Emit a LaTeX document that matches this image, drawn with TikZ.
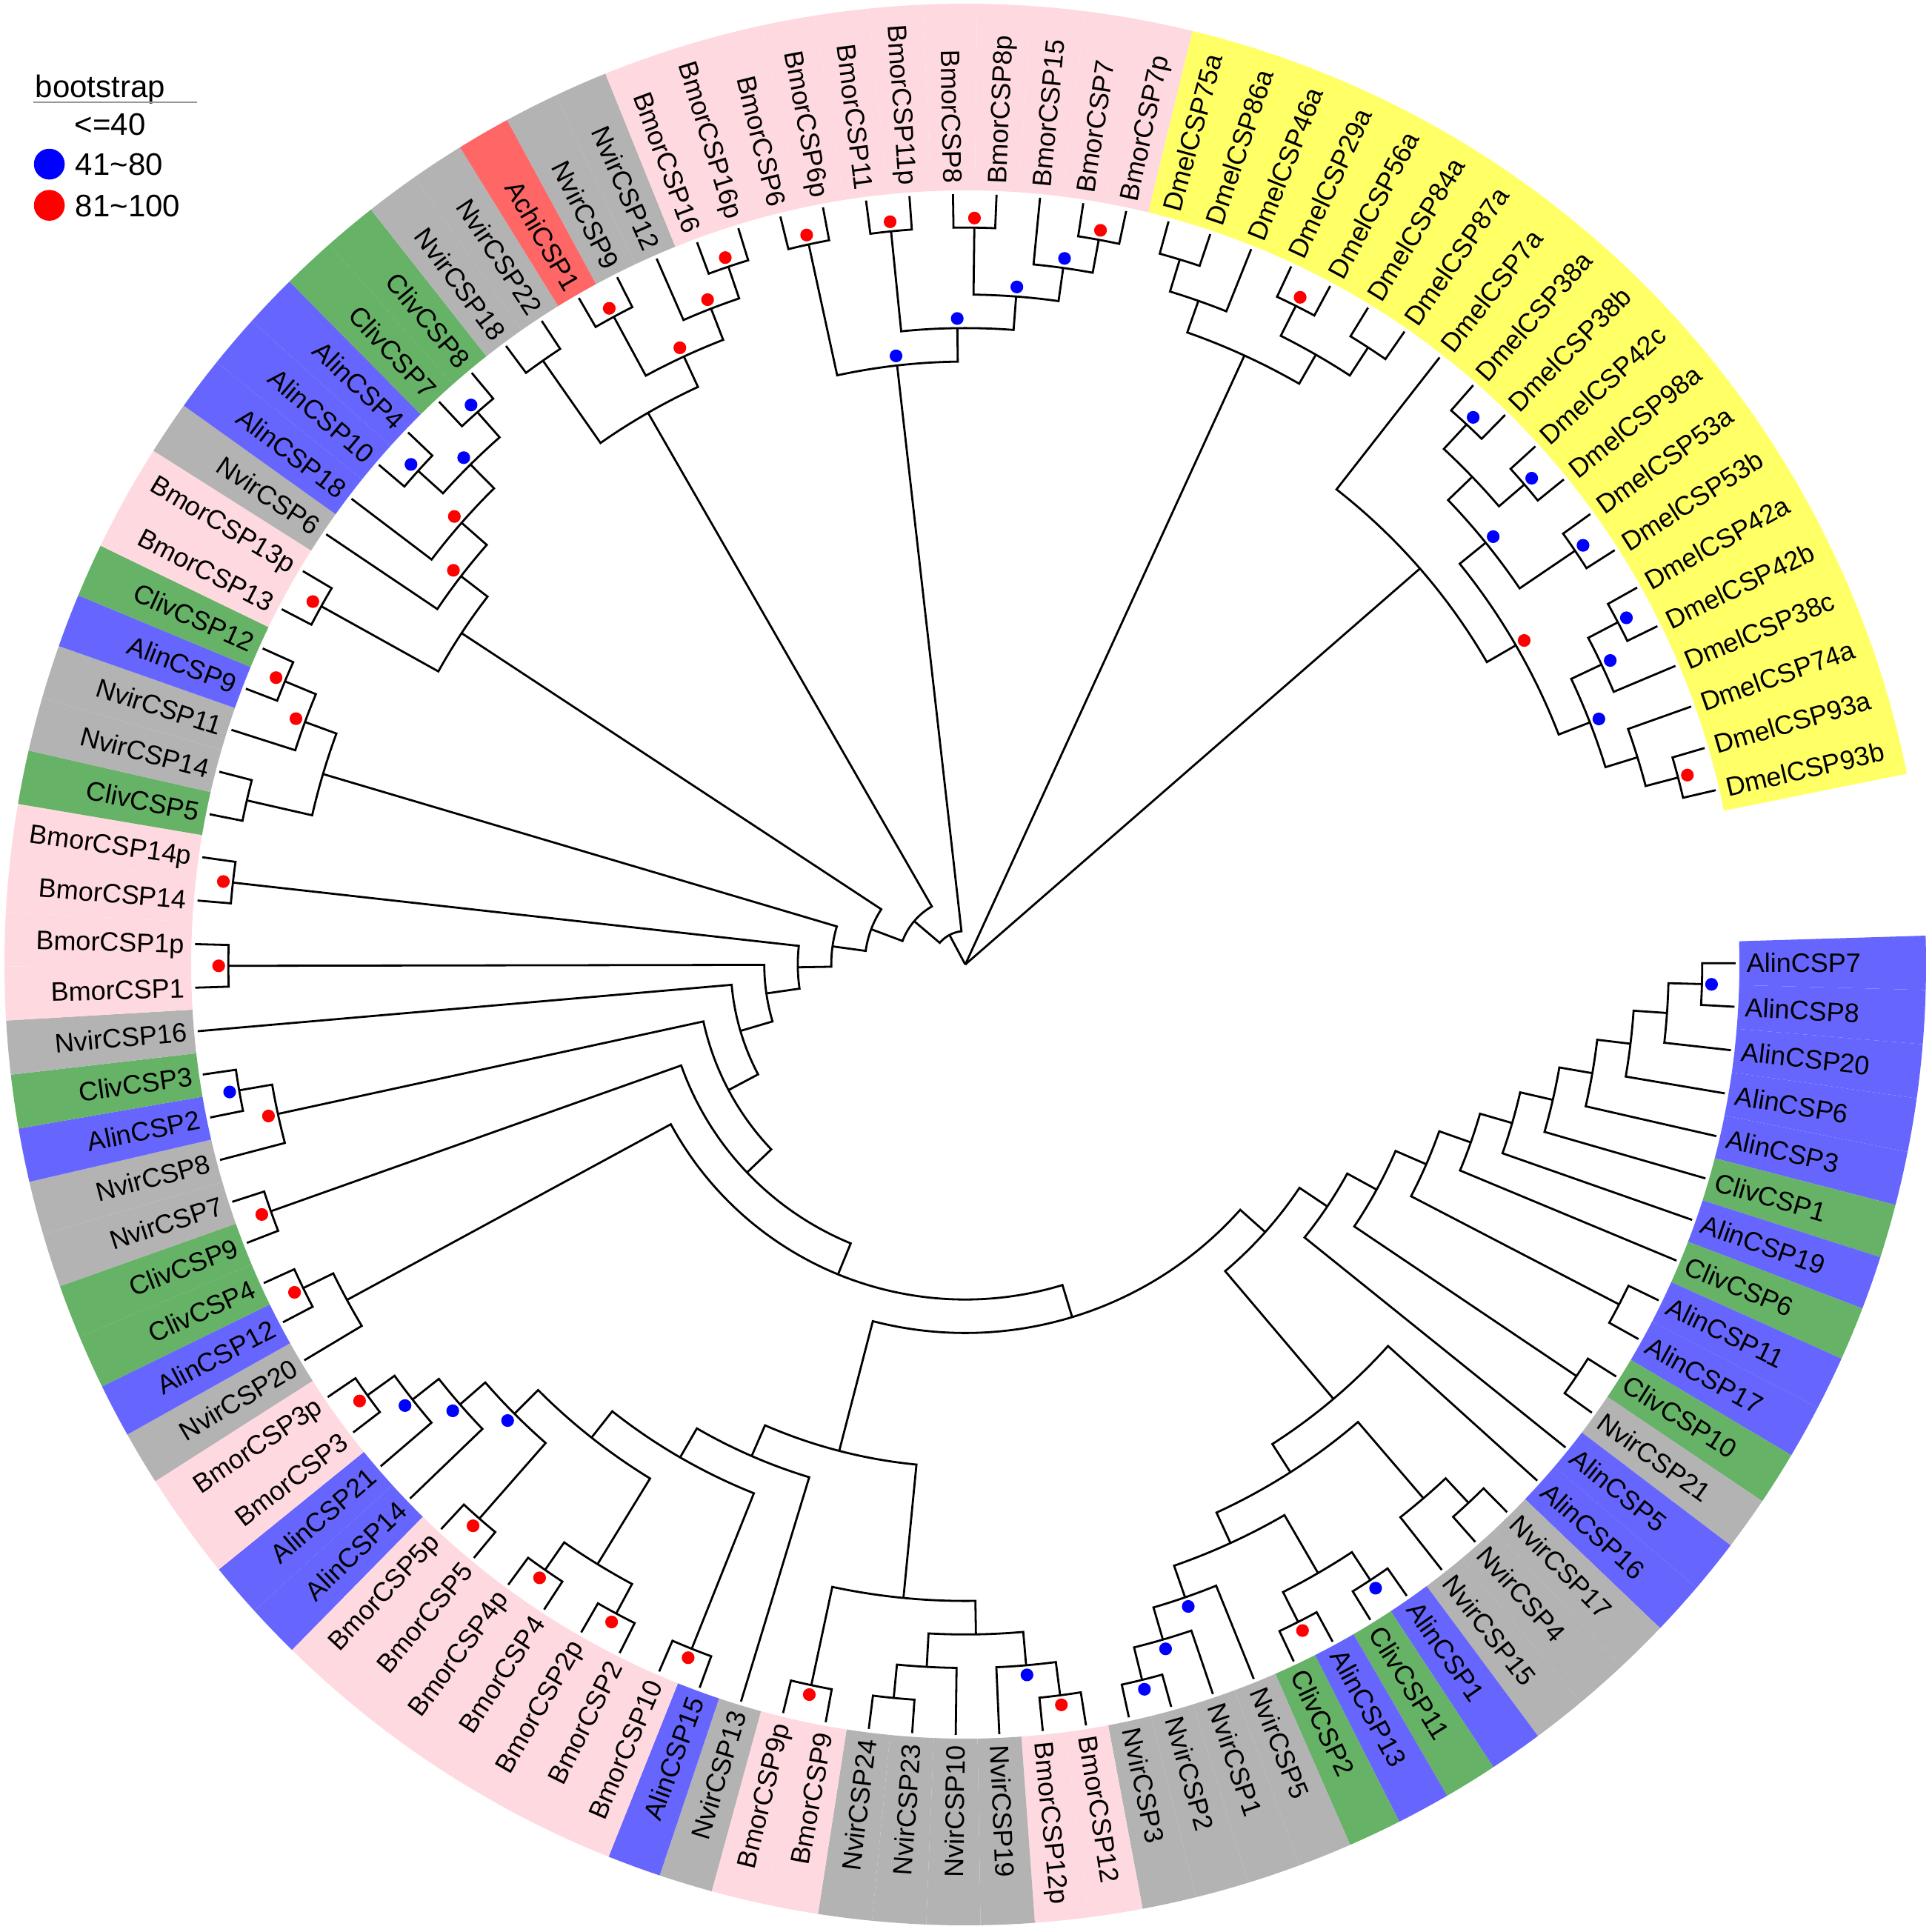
\documentclass[tikz,border=0pt]{standalone}
\usepackage{fontspec}
\setmainfont{Liberation Sans}
\definecolor{cBmor}{RGB}{255,217,224}
\definecolor{cDmel}{RGB}{255,255,102}
\definecolor{cAlin}{RGB}{102,102,255}
\definecolor{cCliv}{RGB}{102,178,102}
\definecolor{cNvir}{RGB}{179,179,179}
\definecolor{cAchi}{RGB}{255,102,102}
\definecolor{dotblue}{RGB}{0,0,255}
\definecolor{dotred}{RGB}{255,0,0}
\tikzset{
  branch/.style={line width=0.7pt,black},
  leaflabel/.style={font=\fontsize{9}{10}\selectfont,inner sep=0pt,text height=6.4pt,text depth=0pt},
  legendtext/.style={font=\fontsize{10.5}{12}\selectfont,inner sep=0pt,text height=7.5pt,text depth=0pt},
  legenddot/.style={circle,inner sep=0pt,minimum size=10.4pt}
}
\newcommand\Leaf[3]{%
  \pgfmathsetmacro\ql{0.1-(#2-1)*3.2432}%
  \expandafter\xdef\csname A#1\endcsname{\ql}%
  \expandafter\xdef\csname R#1\endcsname{260}%
  \pgfmathsetmacro\qlb{\ql-1.6216}%
  \pgfmathsetmacro\qlc{\ql+1.6216}%
  \fill[#3] (\qlb:261.25pt) arc[start angle=\qlb,end angle=\qlc,radius=261.25pt]
     -- (\qlc:324.25pt) arc[start angle=\qlc,end angle=\qlb,radius=324.25pt] -- cycle;
  \coordinate (#1) at (\ql:260pt);
  \ifdim\ql pt>-90pt \edef\qrot{\ql}\def\qanc{west}%
  \else\ifdim\ql pt<-270pt \edef\qrot{\ql}\def\qanc{west}%
  \else\pgfmathsetmacro\qrot{\ql+180}\def\qanc{east}\fi\fi
  \node[leaflabel,rotate=\qrot,anchor=\qanc] (lab#1) at (\ql:263.5pt) {#1};
}
\newcommand\Clade[5][]{%
  \edef\qa{\csname A#4\endcsname}\edef\qb{\csname A#5\endcsname}%
  \edef\qra{\csname R#4\endcsname}\edef\qrb{\csname R#5\endcsname}%
  \pgfmathsetmacro\qr{260-#3*11.30435}%
  \pgfmathsetmacro\qm{(\qa+\qb)/2}%
  \expandafter\xdef\csname A#2\endcsname{\qm}%
  \expandafter\xdef\csname R#2\endcsname{\qr}%
  \draw[branch] (\qa:\qra pt) -- (\qa:\qr pt) arc[start angle=\qa,end angle=\qb,radius=\qr pt] -- (\qb:\qrb pt);
  \coordinate (#2) at (\qm:\qr pt);
  \if\relax\detokenize{#1}\relax\else
    \pgfmathsetmacro\qd{\qr+3.25}%
    \fill[#1] (\qm:\qd pt) circle[radius=2.15pt];
  \fi}
\begin{document}
\begin{tikzpicture}
\useasboundingbox (-325.75pt,-326.5pt) rectangle (326pt,325.5pt);
\fill[white] (-325.75pt,-326.5pt) rectangle (326pt,325.5pt);
% ---------- leaves ----------
\Leaf{AlinCSP7}{1}{cAlin}
\Leaf{AlinCSP8}{2}{cAlin}
\Leaf{AlinCSP20}{3}{cAlin}
\Leaf{AlinCSP6}{4}{cAlin}
\Leaf{AlinCSP3}{5}{cAlin}
\Leaf{ClivCSP1}{6}{cCliv}
\Leaf{AlinCSP19}{7}{cAlin}
\Leaf{ClivCSP6}{8}{cCliv}
\Leaf{AlinCSP11}{9}{cAlin}
\Leaf{AlinCSP17}{10}{cAlin}
\Leaf{ClivCSP10}{11}{cCliv}
\Leaf{NvirCSP21}{12}{cNvir}
\Leaf{AlinCSP5}{13}{cAlin}
\Leaf{AlinCSP16}{14}{cAlin}
\Leaf{NvirCSP17}{15}{cNvir}
\Leaf{NvirCSP4}{16}{cNvir}
\Leaf{NvirCSP15}{17}{cNvir}
\Leaf{AlinCSP1}{18}{cAlin}
\Leaf{ClivCSP11}{19}{cCliv}
\Leaf{AlinCSP13}{20}{cAlin}
\Leaf{ClivCSP2}{21}{cCliv}
\Leaf{NvirCSP5}{22}{cNvir}
\Leaf{NvirCSP1}{23}{cNvir}
\Leaf{NvirCSP2}{24}{cNvir}
\Leaf{NvirCSP3}{25}{cNvir}
\Leaf{BmorCSP12}{26}{cBmor}
\Leaf{BmorCSP12p}{27}{cBmor}
\Leaf{NvirCSP19}{28}{cNvir}
\Leaf{NvirCSP10}{29}{cNvir}
\Leaf{NvirCSP23}{30}{cNvir}
\Leaf{NvirCSP24}{31}{cNvir}
\Leaf{BmorCSP9}{32}{cBmor}
\Leaf{BmorCSP9p}{33}{cBmor}
\Leaf{NvirCSP13}{34}{cNvir}
\Leaf{AlinCSP15}{35}{cAlin}
\Leaf{BmorCSP10}{36}{cBmor}
\Leaf{BmorCSP2}{37}{cBmor}
\Leaf{BmorCSP2p}{38}{cBmor}
\Leaf{BmorCSP4}{39}{cBmor}
\Leaf{BmorCSP4p}{40}{cBmor}
\Leaf{BmorCSP5}{41}{cBmor}
\Leaf{BmorCSP5p}{42}{cBmor}
\Leaf{AlinCSP14}{43}{cAlin}
\Leaf{AlinCSP21}{44}{cAlin}
\Leaf{BmorCSP3}{45}{cBmor}
\Leaf{BmorCSP3p}{46}{cBmor}
\Leaf{NvirCSP20}{47}{cNvir}
\Leaf{AlinCSP12}{48}{cAlin}
\Leaf{ClivCSP4}{49}{cCliv}
\Leaf{ClivCSP9}{50}{cCliv}
\Leaf{NvirCSP7}{51}{cNvir}
\Leaf{NvirCSP8}{52}{cNvir}
\Leaf{AlinCSP2}{53}{cAlin}
\Leaf{ClivCSP3}{54}{cCliv}
\Leaf{NvirCSP16}{55}{cNvir}
\Leaf{BmorCSP1}{56}{cBmor}
\Leaf{BmorCSP1p}{57}{cBmor}
\Leaf{BmorCSP14}{58}{cBmor}
\Leaf{BmorCSP14p}{59}{cBmor}
\Leaf{ClivCSP5}{60}{cCliv}
\Leaf{NvirCSP14}{61}{cNvir}
\Leaf{NvirCSP11}{62}{cNvir}
\Leaf{AlinCSP9}{63}{cAlin}
\Leaf{ClivCSP12}{64}{cCliv}
\Leaf{BmorCSP13}{65}{cBmor}
\Leaf{BmorCSP13p}{66}{cBmor}
\Leaf{NvirCSP6}{67}{cNvir}
\Leaf{AlinCSP18}{68}{cAlin}
\Leaf{AlinCSP10}{69}{cAlin}
\Leaf{AlinCSP4}{70}{cAlin}
\Leaf{ClivCSP7}{71}{cCliv}
\Leaf{ClivCSP8}{72}{cCliv}
\Leaf{NvirCSP18}{73}{cNvir}
\Leaf{NvirCSP22}{74}{cNvir}
\Leaf{AchiCSP1}{75}{cAchi}
\Leaf{NvirCSP9}{76}{cNvir}
\Leaf{NvirCSP12}{77}{cNvir}
\Leaf{BmorCSP16}{78}{cBmor}
\Leaf{BmorCSP16p}{79}{cBmor}
\Leaf{BmorCSP6}{80}{cBmor}
\Leaf{BmorCSP6p}{81}{cBmor}
\Leaf{BmorCSP11}{82}{cBmor}
\Leaf{BmorCSP11p}{83}{cBmor}
\Leaf{BmorCSP8}{84}{cBmor}
\Leaf{BmorCSP8p}{85}{cBmor}
\Leaf{BmorCSP15}{86}{cBmor}
\Leaf{BmorCSP7}{87}{cBmor}
\Leaf{BmorCSP7p}{88}{cBmor}
\Leaf{DmelCSP75a}{89}{cDmel}
\Leaf{DmelCSP86a}{90}{cDmel}
\Leaf{DmelCSP46a}{91}{cDmel}
\Leaf{DmelCSP29a}{92}{cDmel}
\Leaf{DmelCSP56a}{93}{cDmel}
\Leaf{DmelCSP84a}{94}{cDmel}
\Leaf{DmelCSP87a}{95}{cDmel}
\Leaf{DmelCSP7a}{96}{cDmel}
\Leaf{DmelCSP38a}{97}{cDmel}
\Leaf{DmelCSP38b}{98}{cDmel}
\Leaf{DmelCSP42c}{99}{cDmel}
\Leaf{DmelCSP98a}{100}{cDmel}
\Leaf{DmelCSP53a}{101}{cDmel}
\Leaf{DmelCSP53b}{102}{cDmel}
\Leaf{DmelCSP42a}{103}{cDmel}
\Leaf{DmelCSP42b}{104}{cDmel}
\Leaf{DmelCSP38c}{105}{cDmel}
\Leaf{DmelCSP74a}{106}{cDmel}
\Leaf{DmelCSP93a}{107}{cDmel}
\Leaf{DmelCSP93b}{108}{cDmel}
% ---------- right ladder ----------
\Clade[dotblue]{c1}{1}{AlinCSP7}{AlinCSP8}
\Clade{c2}{2}{c1}{AlinCSP20}
\Clade{c3}{3}{c2}{AlinCSP6}
\Clade{c4}{4}{c3}{AlinCSP3}
\Clade{c5}{5}{c4}{ClivCSP1}
\Clade{c6}{6}{c5}{AlinCSP19}
\Clade{c7}{7}{c6}{ClivCSP6}
\Clade{c8}{1}{AlinCSP11}{AlinCSP17}
\Clade{c9}{8}{c7}{c8}
\Clade{c10}{1}{ClivCSP10}{NvirCSP21}
\Clade{c11}{9}{c9}{c10}
\Clade{c12}{10}{c11}{AlinCSP5}
\Clade{c13}{1}{NvirCSP17}{NvirCSP4}
\Clade{c14}{2}{c13}{NvirCSP15}
\Clade[dotblue]{c15}{1}{AlinCSP1}{ClivCSP11}
\Clade[dotred]{c16}{1}{AlinCSP13}{ClivCSP2}
\Clade{c17}{2}{c15}{c16}
\Clade[dotblue]{c18}{1}{NvirCSP2}{NvirCSP3}
\Clade[dotblue]{c19}{2}{c18}{NvirCSP1}
\Clade[dotblue]{c20}{3}{c19}{NvirCSP5}
\Clade{c21}{4}{c17}{c20}
\Clade{c22}{5}{c14}{c21}
\Clade{c23}{6}{AlinCSP16}{c22}
\Clade{c24}{11}{c12}{c23}
% ---------- bottom ----------
\Clade[dotred]{b1}{1}{BmorCSP12}{BmorCSP12p}
\Clade[dotblue]{b2}{2}{NvirCSP19}{b1}
\Clade{b3}{1}{NvirCSP23}{NvirCSP24}
\Clade{b4}{2}{NvirCSP10}{b3}
\Clade{b5}{3}{b4}{b2}
\Clade[dotred]{b6}{1}{BmorCSP9}{BmorCSP9p}
\Clade{b7}{4}{b5}{b6}
\Clade[dotred]{b8}{1}{AlinCSP15}{BmorCSP10}
\Clade[dotred]{b9}{1}{BmorCSP2}{BmorCSP2p}
\Clade[dotred]{b10}{1}{BmorCSP4}{BmorCSP4p}
\Clade{b11}{2}{b9}{b10}
\Clade[dotred]{b12}{1}{BmorCSP5}{BmorCSP5p}
\Clade[dotred]{b13}{1}{BmorCSP3}{BmorCSP3p}
\Clade[dotblue]{b14}{2}{AlinCSP21}{b13}
\Clade[dotblue]{b15}{3}{AlinCSP14}{b14}
\Clade[dotblue]{b16}{4}{b12}{b15}
\Clade{b17}{5}{b11}{b16}
\Clade{b18}{6}{b8}{b17}
\Clade{b19}{7}{NvirCSP13}{b18}
\Clade{b20}{8}{b7}{b19}
\Clade{b21}{12}{c24}{b20}
\Clade[dotred]{b22}{1}{ClivCSP4}{AlinCSP12}
\Clade{b23}{2}{b22}{NvirCSP20}
\Clade{b24}{13}{b21}{b23}
\Clade[dotred]{b25}{1}{ClivCSP9}{NvirCSP7}
\Clade{b26}{14}{b24}{b25}
% ---------- left ----------
\Clade[dotblue]{l1}{1}{AlinCSP2}{ClivCSP3}
\Clade[dotred]{l2}{2}{NvirCSP8}{l1}
\Clade{l3}{15}{b26}{l2}
\Clade{l4}{16}{l3}{NvirCSP16}
\Clade[dotred]{l5}{1}{BmorCSP1}{BmorCSP1p}
\Clade{l6}{17}{l4}{l5}
\Clade[dotred]{l7}{1}{BmorCSP14}{BmorCSP14p}
\Clade{l8}{18}{l6}{l7}
\Clade{l9}{1}{ClivCSP5}{NvirCSP14}
\Clade[dotred]{l10}{1}{AlinCSP9}{ClivCSP12}
\Clade[dotred]{l11}{2}{NvirCSP11}{l10}
\Clade{l12}{3}{l9}{l11}
\Clade{l13}{19}{l8}{l12}
\Clade[dotred]{l14}{1}{BmorCSP13}{BmorCSP13p}
\Clade[dotblue]{l15}{1}{AlinCSP10}{AlinCSP4}
\Clade[dotblue]{l16}{1}{ClivCSP7}{ClivCSP8}
\Clade[dotblue]{l17}{2}{l15}{l16}
\Clade[dotred]{l18}{3}{AlinCSP18}{l17}
\Clade[dotred]{l19}{4}{NvirCSP6}{l18}
\Clade{l20}{5}{l14}{l19}
\Clade{l21}{20}{l13}{l20}
% ---------- top ----------
\Clade{t1}{1}{NvirCSP18}{NvirCSP22}
\Clade[dotred]{t2}{1}{AchiCSP1}{NvirCSP9}
\Clade[dotred]{t3}{1}{BmorCSP16}{BmorCSP16p}
\Clade[dotred]{t4}{2}{NvirCSP12}{t3}
\Clade[dotred]{t5}{3}{t2}{t4}
\Clade{t6}{4}{t1}{t5}
\Clade{t7}{21}{l21}{t6}
\Clade[dotred]{t8}{1}{BmorCSP6}{BmorCSP6p}
\Clade[dotred]{t9}{1}{BmorCSP11}{BmorCSP11p}
\Clade[dotred]{t10}{1}{BmorCSP8}{BmorCSP8p}
\Clade[dotred]{t11}{1}{BmorCSP7}{BmorCSP7p}
\Clade[dotblue]{t12}{2}{BmorCSP15}{t11}
\Clade[dotblue]{t13}{3}{t10}{t12}
\Clade[dotblue]{t14}{4}{t9}{t13}
\Clade[dotblue]{t15}{5}{t8}{t14}
\Clade{t16}{22}{t7}{t15}
% ---------- Dmel ----------
\Clade{d1}{1}{DmelCSP75a}{DmelCSP86a}
\Clade{d2}{2}{d1}{DmelCSP46a}
\Clade[dotred]{d3}{1}{DmelCSP29a}{DmelCSP56a}
\Clade{d4}{1}{DmelCSP84a}{DmelCSP87a}
\Clade{d5}{2}{d3}{d4}
\Clade{d6}{3}{d2}{d5}
\Clade[dotblue]{d7}{1}{DmelCSP38a}{DmelCSP38b}
\Clade[dotblue]{d8}{1}{DmelCSP42c}{DmelCSP98a}
\Clade{d9}{2}{d7}{d8}
\Clade[dotblue]{d10}{1}{DmelCSP53a}{DmelCSP53b}
\Clade[dotblue]{d11}{3}{d9}{d10}
\Clade[dotblue]{d12}{1}{DmelCSP42a}{DmelCSP42b}
\Clade[dotblue]{d13}{2}{d12}{DmelCSP38c}
\Clade[dotred]{d14}{1}{DmelCSP93a}{DmelCSP93b}
\Clade{d15}{2}{DmelCSP74a}{d14}
\Clade[dotblue]{d16}{3}{d13}{d15}
\Clade[dotred]{d17}{4}{d11}{d16}
\Clade{d18}{5}{DmelCSP7a}{d17}
% ---------- root ----------
\coordinate (root) at (0,0);
\draw[branch] (root) -- (t16);
\draw[branch] (root) -- (d6);
\draw[branch] (root) -- (d18);
% ---------- legend ----------
\node[legendtext,anchor=base west] (legTitle) at (-314pt,292.6pt) {bootstrap};
\draw[black!40,line width=0.5pt] (-314.5pt,291pt) coordinate (legL) -- (-259.25pt,291pt) coordinate (legR);
\node[legendtext,anchor=west] (legLow) at (-300.75pt,283.5pt) {<=40};
\node[legenddot,fill=dotblue] (legBlue) at (-309.1pt,270.1pt) {};
\node[legendtext,anchor=west] (legMid) at (-300.5pt,270.1pt) {41\textasciitilde 80};
\node[legenddot,fill=dotred] (legRed) at (-309.1pt,256.2pt) {};
\node[legendtext,anchor=west] (legHigh) at (-300.5pt,256.2pt) {81\textasciitilde 100};
\end{tikzpicture}
\end{document}
